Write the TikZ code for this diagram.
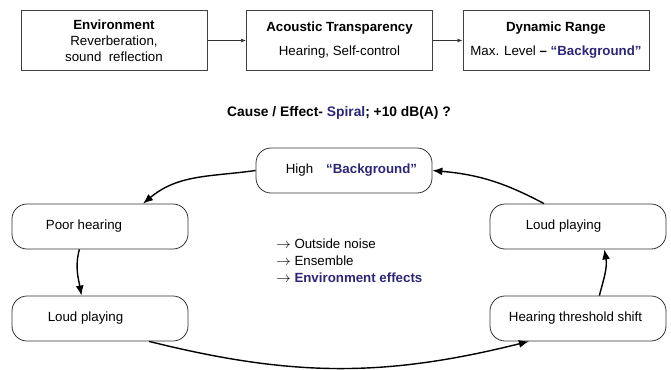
\documentclass[tikz,border=0pt]{standalone}
\usepackage{fontspec}
\setmainfont{Liberation Sans}
\usepackage{tikz}
\usetikzlibrary{arrows.meta}
\definecolor{navy}{RGB}{43,38,122}

\begin{document}
\begin{tikzpicture}[x=1pt,y=1pt,thick,font=\fontsize{13.3}{16}\selectfont]

\tikzstyle{block}=[rectangle, draw=black!75, line width=1pt, minimum width=186pt, minimum height=60pt, align=center, inner sep=0pt]
\tikzstyle{state}=[rectangle, rounded corners=15pt, draw=black!80, line width=0.8pt, minimum width=176pt, minimum height=45pt, inner sep=0pt]
\tikzstyle{flow}=[-{Latex[length=5pt,width=4pt]}, line width=0.7pt, black!80]
\tikzstyle{cycle}=[-{Latex[length=10pt,width=8pt]}, line width=1.4pt, black]

	\useasboundingbox (0,0) rectangle (671,-369);

	\node[block] (env)  at (114,-40.5)   {\textbf{Environment}\\Reverberation,\\sound\ \ reflection};
	\node[block] (acou) at (339.5,-40.5) {\textbf{Acoustic Transparency}\\[8pt]Hearing, Self-control};
	\node[block] (dyn)  at (556,-40.5)   {\textbf{Dynamic Range}\\[8pt]Max. Level \textbf{--} \textcolor{navy}{\textbf{``Background''}}};

	\draw[flow] (env.east) -- (acou.west);
	\draw[flow] (acou.east) -- (dyn.west);

	\node[font=\fontsize{13.8}{16}\selectfont] (title) at (339,-113) {\textbf{Cause / Effect- \textcolor{navy}{Spiral}; +10 dB(A) ?}};

	\node[state] (high)  at (344,-170.5) {\hspace*{15pt}High\hspace{13pt}\textcolor{navy}{\textbf{``Background''}}};
	\node[state] (poor)  at (100,-226.5) {\hspace*{-32pt}Poor hearing};
	\node[state] (loudl) at (100,-318.5) {\hspace*{-29pt}Loud playing};
	\node[state] (loudr) at (578,-226.5) {\hspace*{-29pt}Loud playing};
	\node[state] (shift) at (578,-318.5) {\hspace*{-5pt}Hearing threshold shift};

	\node[anchor=west, align=left, inner sep=0pt, font=\fontsize{13.3}{17}\selectfont] (causes) at (276,-261)
		{$\rightarrow$ Outside noise\\$\rightarrow$ Ensemble\\$\rightarrow$ \textcolor{navy}{\textbf{Environment effects}}};

	% spiral links
	\draw[cycle] (high.west) to[out=188, in=40] (poor.28);
	\draw[cycle] (poor.228) to[out=-105, in=100] (loudl.129);
	\draw[cycle] (loudl.-25) to[out=-14, in=194] (shift.205);
	\draw[cycle] (shift.47) to[out=75, in=-80] (loudr.-41);
	\draw[cycle] (loudr.146) to[out=152, in=-5] (high.east);
\end{tikzpicture}
\end{document}
